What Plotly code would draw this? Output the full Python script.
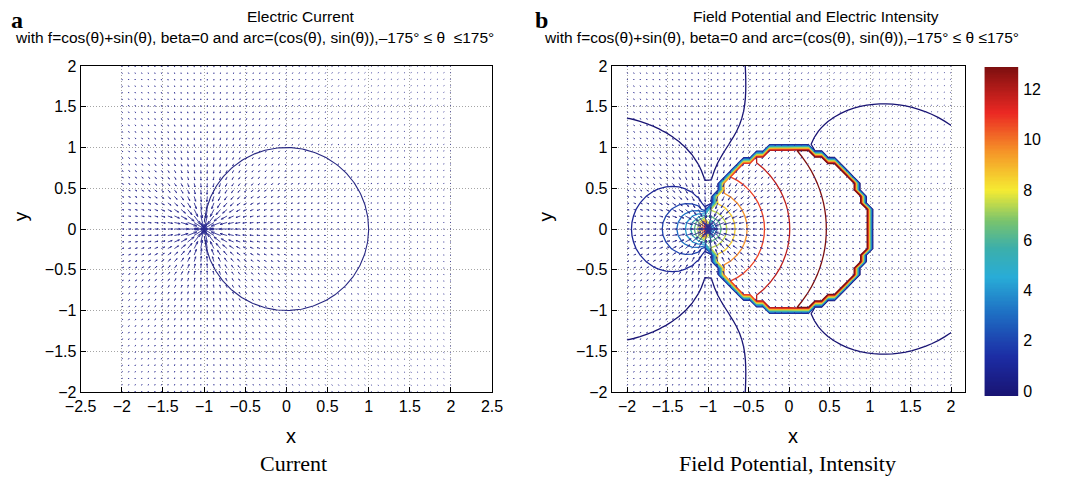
import numpy as np
import plotly.graph_objects as go

# ---------------- data / parameters ----------------
x_ticks_a = [-2.5, -2, -1.5, -1, -0.5, 0, 0.5, 1, 1.5, 2, 2.5]
x_ticks_b = [-2, -1.5, -1, -0.5, 0, 0.5, 1, 1.5, 2]
y_ticks = [-2, -1.5, -1, -0.5, 0, 0.5, 1, 1.5, 2]
cbar_ticks = [0, 2, 4, 6, 8, 10, 12]
contour_levels = [0, 1, 2, 3, 4, 5, 6, 7, 8, 9, 10, 11, 12]
c_range = [-0.2, 12.9]

grid_lim = [-2.0, 2.0]
grid_step = 0.08
arc_deg = [-175, 175]          # the arc carrying f
gap_point = [-1.0, 0.0]        # gap of the arc at theta = 180 deg

# potential model parameters (inside / outside the arc)
in_base, in_slope, in_ref = 12.0, 2.7, 1.46
out_gain, out_half_gap = 4.0, 0.155
far_offset, near_radius = -0.45, 0.9
outer_circle = [1.08, 0.0, 1.47]     # centre x, centre y, radius of the outer zero contour
blend_x, blend_w, outer_gain = -0.4, 0.15, 1.0
# current (arrow) scale parameters
arrow_k, arrow_min, arrow_max = 0.026, 0.008, 0.16

jet = [[0.0, 'rgb(25,20,115)'], [0.12, 'rgb(28,45,165)'], [0.25, 'rgb(30,110,195)'],
       [0.36, 'rgb(40,172,215)'], [0.45, 'rgb(60,175,170)'], [0.53, 'rgb(120,195,110)'],
       [0.625, 'rgb(245,235,50)'], [0.74, 'rgb(245,150,40)'], [0.86, 'rgb(235,40,35)'],
       [1.0, 'rgb(125,15,15)']]

# ---------------- field ----------------
g = np.round(np.arange(grid_lim[0], grid_lim[1] + 1e-9, grid_step), 4)
X, Y = np.meshgrid(g, g)
rho = np.hypot(X, Y)
dx, dy = X - gap_point[0], Y - gap_point[1]
rg = np.hypot(dx, dy)

phi_in = in_base + in_slope * np.log(rg / in_ref)
ax_, ay_ = -1.0 - X, out_half_gap - Y
bx_, by_ = -1.0 - X, -out_half_gap - Y
ang = np.abs(np.arctan2(ax_ * by_ - ay_ * bx_, ax_ * bx_ + ay_ * by_))
sd = np.hypot(X - outer_circle[0], Y - outer_circle[1]) - outer_circle[2]
wgt = 1.0 / (1.0 + np.exp(-(X - blend_x) / blend_w))
bg = far_offset * (1.0 - np.exp(-(rg / near_radius) ** 2)) + outer_gain * wgt * sd
phi_out = out_gain * ang + bg
phi = np.where(rho < 1.0, phi_in, phi_out)

L = np.clip(arrow_k / rg, arrow_min, arrow_max)
U = -dx / rg * L
V = -dy / rg * L


def quiver_xy(Xa, Ya, Ua, Va, head=0.33, spread=0.33):
    xs, ys = [], []
    for x0, y0, u, v in zip(Xa.ravel(), Ya.ravel(), Ua.ravel(), Va.ravel()):
        x1, y1 = x0 + u, y0 + v
        xs += [x0, x1, None, x1 - head * (u + spread * v), x1, x1 - head * (u - spread * v), None]
        ys += [y0, y1, None, y1 - head * (v - spread * u), y1, y1 - head * (v + spread * u), None]
    return xs, ys


qx, qy = quiver_xy(X, Y, U, V)
th = np.deg2rad(np.linspace(arc_deg[0], arc_deg[1], 361))
cb_vals = np.linspace(c_range[0], c_range[1], 256)

# ---------------- layout helpers (screen pixel -> paper) ----------------
OX, OY = 8, 8                      # page body margin offset
W, H = 1065 - 2 * OX, 477          # keep the page no wider than the window
ML, MR, MT, MB = 40, 10, 40, 30
PW, PH = W - ML - MR, H - MT - MB


def fx(px):
    return (px - OX - ML) / PW


def fy(py):
    return 1 - (py - OY - MT) / PH


arrow_col = 'rgb(45,45,145)'

fig = go.Figure()
fig.add_trace(go.Scatter(x=qx, y=qy, mode='lines', line=dict(color=arrow_col, width=0.9),
                         hoverinfo='skip', xaxis='x', yaxis='y'))
fig.add_trace(go.Scatter(x=np.cos(th), y=np.sin(th), mode='lines',
                         line=dict(color='rgb(40,40,130)', width=1.1), xaxis='x', yaxis='y'))
fig.add_trace(go.Contour(x=g, y=g, z=phi, xaxis='x2', yaxis='y2',
                         autocontour=False,
                         contours=dict(coloring='lines', start=contour_levels[0],
                                       end=contour_levels[-1],
                                       size=contour_levels[1] - contour_levels[0]),
                         line=dict(width=1.3, smoothing=0),
                         colorscale=jet, zauto=False, zmin=c_range[0], zmax=c_range[1],
                         showscale=False, hoverinfo='skip'))
fig.add_trace(go.Scatter(x=qx, y=qy, mode='lines', line=dict(color=arrow_col, width=0.9),
                         hoverinfo='skip', xaxis='x2', yaxis='y2'))
# colour bar drawn as a heatmap on its own axes
fig.add_trace(go.Heatmap(x=[0, 1], y=cb_vals, z=[[v, v] for v in cb_vals], colorscale=jet,
                         zmin=c_range[0], zmax=c_range[1], showscale=False, hoverinfo='skip',
                         xaxis='x3', yaxis='y3'))

axis_common = dict(showgrid=True, gridcolor='rgb(165,165,165)', griddash='1px,2px', gridwidth=1,
                   showline=True, mirror=True, linecolor='black', linewidth=1,
                   ticks='inside', ticklen=5, tickcolor='black', zeroline=False,
                   tickfont=dict(size=16, family='Liberation Sans', color='black'))

ydom = [fy(392), fy(66)]
fig.update_layout(
    width=W, height=H, margin=dict(l=ML, r=MR, t=MT, b=MB, pad=0), autosize=False,
    paper_bgcolor='white', plot_bgcolor='white', showlegend=False,
    xaxis=dict(domain=[fx(81), fx(497)], range=[-2.5, 2.5], tickvals=x_ticks_a, anchor='y', **axis_common),
    yaxis=dict(domain=ydom, range=[-2, 2], tickvals=y_ticks, anchor='x', **axis_common),
    xaxis2=dict(domain=[fx(618), fx(975)], range=[-2.19, 2.17], tickvals=x_ticks_b, anchor='y2', **axis_common),
    yaxis2=dict(domain=ydom, range=[-2, 2], tickvals=y_ticks, anchor='x2', **axis_common),
    xaxis3=dict(domain=[fx(995), fx(1029)], range=[0, 1], visible=False, anchor='y3', fixedrange=True),
    yaxis3=dict(domain=[fy(396), fy(67)], range=c_range, anchor='x3', side='right',
                tickvals=cbar_ticks, ticks='', showgrid=False, zeroline=False, showline=False,
                ticklabelstandoff=4,
                tickfont=dict(size=16, family='Liberation Sans', color='black')),
)


def ann(text, xpx, ypx, size, family='Liberation Sans', angle=0, bold=False):
    fig.add_annotation(text=('<b>%s</b>' % text) if bold else text, x=fx(xpx), y=fy(ypx),
                       xref='paper', yref='paper', showarrow=False, xanchor='center',
                       yanchor='middle', textangle=angle,
                       font=dict(size=size, family=family, color='black'))


ann('Electric Current', 303, 16.5, 15.5)
ann('with f=cos(θ)+sin(θ), beta=0 and arc=(cos(θ), sin(θ)),–175° ≤ θ\u00a0 ≤175°', 257, 38, 15.5)
ann('Field Potential and Electric Intensity', 825, 16.5, 15.5)
ann('with f=cos(θ)+sin(θ), beta=0 and arc=(cos(θ), sin(θ)),–175° ≤ θ ≤175°', 790, 38, 15.5)
ann('a', 16.5, 20, 24, family='Liberation Serif', bold=True)
ann('b', 546.5, 20, 24, family='Liberation Serif', bold=True)
ann('x', 293.5, 436, 20)
ann('x', 801, 436, 20)
ann('y', 20, 216, 19, angle=-90)
ann('y', 551, 216, 19, angle=-90)
ann('Current', 296, 463.3, 22, family='Liberation Serif')
ann('Field Potential, Intensity', 796, 463.3, 22, family='Liberation Serif')

fig.write_html('out.html')
